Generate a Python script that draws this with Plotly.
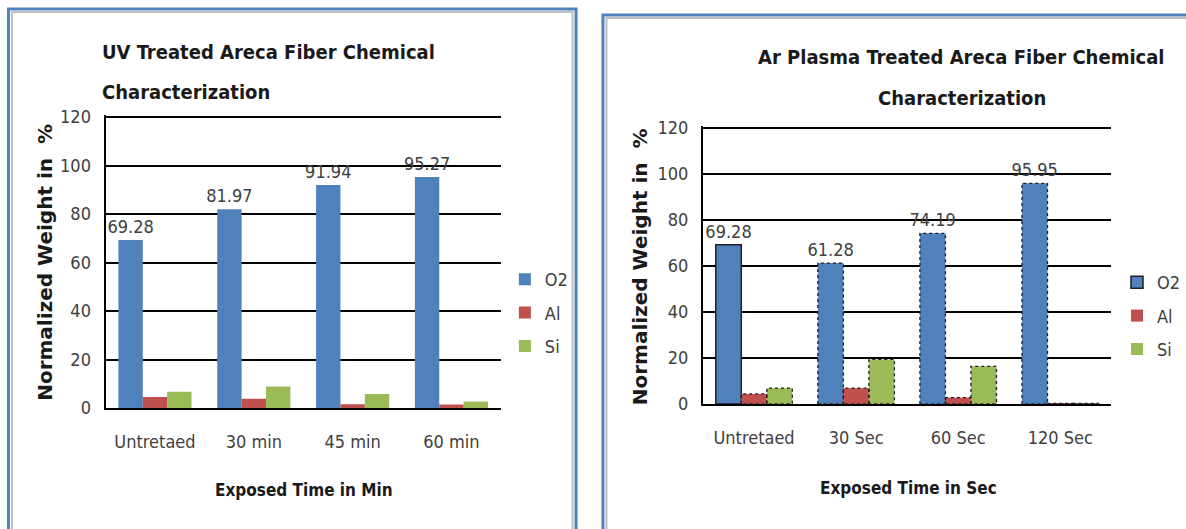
import plotly.graph_objects as go

W, H = 1186, 529

# ---------------- data ----------------
uv_categories = ["Untretaed", "30 min", "45 min", "60 min"]
uv_o2 = [69.28, 81.97, 91.94, 95.27]
uv_al = [4.5, 3.8, 1.5, 1.4]
uv_si = [6.7, 8.9, 5.8, 2.7]

ar_categories = ["Untretaed", "30 Sec", "60 Sec", "120 Sec"]
ar_o2 = [69.28, 61.28, 74.19, 95.95]
ar_al = [4.4, 6.9, 2.8, 0.3]
ar_si = [6.9, 19.4, 16.4, 0.3]

series_names = ["O2", "Al", "Si"]
series_colors = ["#4F81BD", "#C0504D", "#9BBB59"]
y_ticks = [0, 20, 40, 60, 80, 100, 120]

# ---------------- helpers ----------------
NARROW = "DejaVu Sans Condensed, Liberation Sans Narrow, sans-serif"
WIDE_BOLD = "DejaVu Sans, Verdana, sans-serif"
Y_TOP = 120.8  # a little headroom so the 120 gridline is drawn


def px(x):
    return x / W


def py(y):
    return 1 - y / H


fig = go.Figure()


def add_panel(cats, series, xa, ya, legend, gap, dotted):
    xs = list(range(len(cats)))
    group = 1 - gap
    w = group / 3
    for k, (name, vals, col) in enumerate(zip(series_names, series, series_colors)):
        off = -group / 2 + k * w
        kw = {}
        if k == 0:
            kw = dict(text=[f"{v:.2f}" for v in vals], textposition="outside",
                      texttemplate="%{text}", constraintext="none",
                      textfont=dict(family=NARROW, size=18, color="#404040"),
                      cliponaxis=False)
        line_w = 0
        if dotted and k == 0:
            line_w = [1.5] + [0] * (len(vals) - 1)
        fig.add_trace(go.Bar(
            x=xs, y=vals, name=name, width=w, offset=off,
            marker=dict(color=col, line=dict(color="#1F1F1F", width=line_w)),
            xaxis=xa, yaxis=ya, legend=legend, legendgroup=legend + name,
            hoverinfo="skip", **kw))
        if dotted:
            lx, ly = [], []
            for i, v in zip(xs, vals):
                if k == 0 and i == 0:
                    continue
                x0, x1 = i + off, i + off + w
                lx += [x0, x0, x1, x1, x0, None]
                ly += [0, v, v, 0, 0, None]
            fig.add_trace(go.Scatter(
                x=lx, y=ly, mode="lines", showlegend=False, hoverinfo="skip",
                line=dict(color="#1F1F1F", width=1.3, dash="dot"),
                xaxis=xa, yaxis=ya, cliponaxis=False))


add_panel(uv_categories, [uv_o2, uv_al, uv_si], "x", "y", "legend", 0.26, False)
add_panel(ar_categories, [ar_o2, ar_al, ar_si], "x2", "y2", "legend2", 0.25, True)

axis_common_x = dict(
    range=[-0.5, 3.5], showgrid=False, zeroline=False, showline=True,
    linecolor="#000000", linewidth=2, ticks="outside", ticklen=16,
    tickcolor="rgba(0,0,0,0)", tickfont=dict(family=NARROW, size=18, color="#404040"),
    fixedrange=True, automargin=False)
axis_common_y = dict(
    range=[0, Y_TOP], tickvals=y_ticks, showgrid=True, gridcolor="#000000",
    gridwidth=2, zeroline=False, showline=True, linecolor="#000000", linewidth=2,
    ticks="outside", ticklen=9, tickcolor="rgba(0,0,0,0)",
    tickfont=dict(family=NARROW, size=18, color="#404040"), fixedrange=True,
    automargin=False)


def top_px(bottom, top120):
    # pixel of the range top, given pixel rows of 0 and 120
    return bottom - (bottom - top120) * Y_TOP / 120


fig.update_layout(
    template="none",
    width=W, height=H, margin=dict(l=0, r=0, t=0, b=0, pad=0), autosize=False,
    paper_bgcolor="white", plot_bgcolor="white", barmode="overlay",
    showlegend=True,
    xaxis=dict(domain=[px(106), px(503)], anchor="y",
               tickvals=list(range(4)), ticktext=uv_categories, **axis_common_x),
    yaxis=dict(domain=[py(408), py(top_px(408, 117))], anchor="x", **axis_common_y),
    xaxis2=dict(domain=[px(706), px(1116)], anchor="y2",
                tickvals=list(range(4)), ticktext=ar_categories, **axis_common_x),
    yaxis2=dict(domain=[py(404), py(top_px(404, 128))], anchor="x2", **axis_common_y),
    legend=dict(x=px(507), y=py(261), xanchor="left", yanchor="top",
                font=dict(family=NARROW, size=18, color="#404040"),
                tracegroupgap=7, bgcolor="rgba(0,0,0,0)", itemwidth=30),
    legend2=dict(x=px(1122), y=py(264), xanchor="left", yanchor="top",
                 font=dict(family=NARROW, size=18, color="#404040"),
                 tracegroupgap=7, bgcolor="rgba(0,0,0,0)", itemwidth=30),
)

# panel frames (blue outer line with grey inner line)
fig.add_shape(type="rect", xref="paper", yref="paper", x0=px(12), y0=py(560),
              x1=px(575), y1=py(12), line=dict(color="#BFBFBF", width=2), layer="below")
fig.add_shape(type="rect", xref="paper", yref="paper", x0=px(8.5), y0=py(560),
              x1=px(578.5), y1=py(9), line=dict(color="#4F81BD", width=3), layer="below")
fig.add_shape(type="rect", xref="paper", yref="paper", x0=px(609), y0=py(560),
              x1=px(1220), y1=py(18), line=dict(color="#BFBFBF", width=2), layer="below")
fig.add_shape(type="rect", xref="paper", yref="paper", x0=px(605.5), y0=py(560),
              x1=px(1220), y1=py(15), line=dict(color="#4F81BD", width=3), layer="below")

TITLE_FONT = dict(family=NARROW, size=20, color="#1A1A1A")
AX_FONT = dict(family=NARROW, size=17, color="#1A1A1A")
YT_FONT = dict(family=WIDE_BOLD, size=20, color="#1A1A1A")


def ann(text, x, y, font, xanchor="center", angle=0):
    fig.add_annotation(text=text, x=px(x), y=py(y), xref="paper", yref="paper",
                       xanchor=xanchor, yanchor="middle", showarrow=False,
                       font=font, textangle=angle)


# left titles
ann("<b>UV Treated Areca Fiber Chemical</b>", 100, 52, TITLE_FONT, "left")
ann("<b>Characterization</b>", 100, 92, TITLE_FONT, "left")
ann("<b>Exposed Time in Min</b>", 305, 490, AX_FONT)
ann("<b>Normalized Weight in  %</b>", 45, 262, YT_FONT, angle=-90)

# right titles
ann("<b>Ar Plasma Treated Areca Fiber Chemical</b>", 966, 57, TITLE_FONT)
ann("<b>Characterization</b>", 966, 98, TITLE_FONT)
ann("<b>Exposed Time in Sec</b>", 912, 488, AX_FONT)
ann("<b>Normalized Weight in  %</b>", 643, 267, YT_FONT, angle=-90)

fig.write_html(
    "out.html",
    config={"displayModeBar": False, "responsive": False},
    post_script="document.body.style.margin='0';document.body.style.overflow='hidden';",
)
